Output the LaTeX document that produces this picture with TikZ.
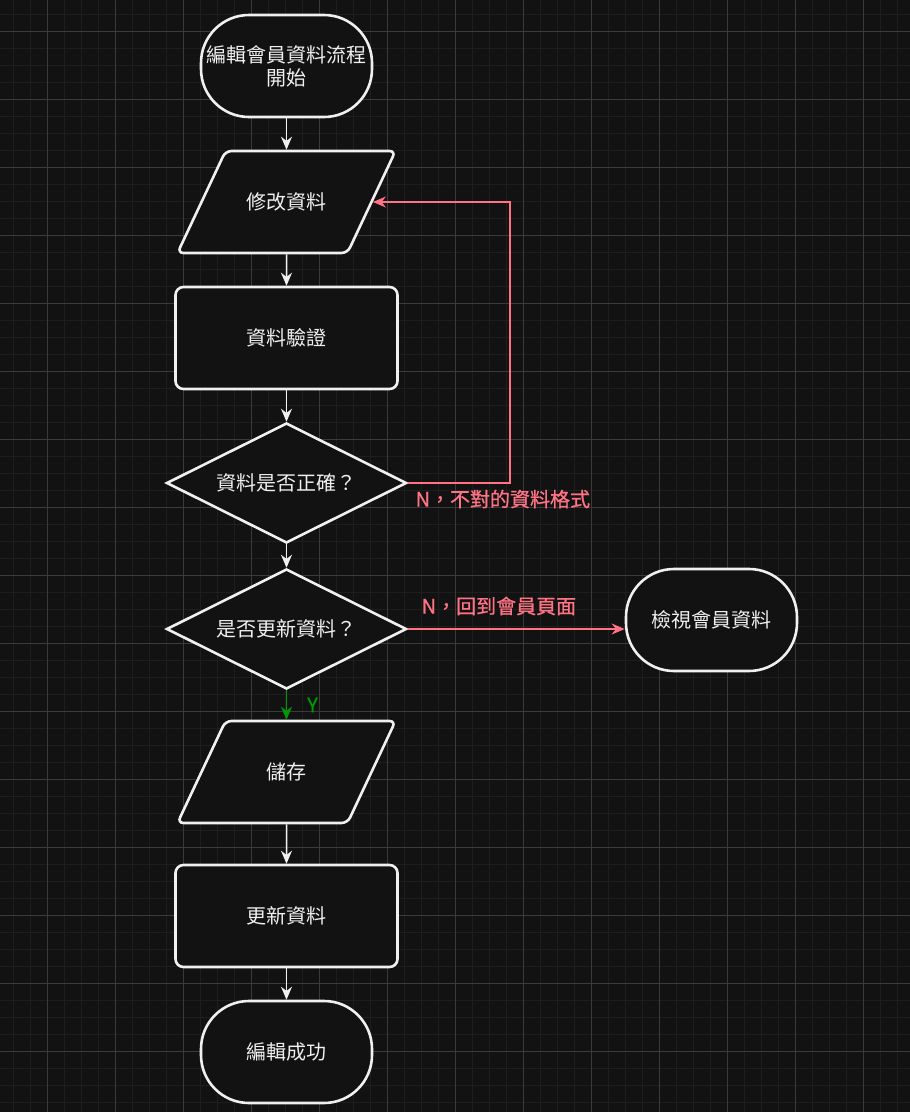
\documentclass[tikz,border=0pt]{standalone}
\usepackage{fontspec}
\setmainfont{Noto Sans CJK TC}
\newfontfamily\lblfont[FakeBold=0.8]{Noto Sans CJK TC}
\usetikzlibrary{shapes.geometric,positioning,arrows.meta}
\definecolor{bg}{HTML}{121212}
\definecolor{gridminor}{HTML}{1E1E1E}
\definecolor{gridmajor}{HTML}{3A3A3A}
\definecolor{edge}{HTML}{F0F0F0}
\definecolor{nored}{HTML}{FF7385}
\definecolor{yesgreen}{HTML}{009900}

\tikzset{
  base/.style={draw=edge, line width=2.6pt, fill=bg, text=edge,
    font=\fontsize{20}{23}\selectfont, align=center},
  term/.style={base, rectangle, rounded corners=48pt,
    minimum width=171pt, minimum height=102pt},
  io/.style={base, trapezium, trapezium left angle=64, trapezium right angle=116,
    trapezium stretches body, inner ysep=40pt, minimum width=218pt, minimum height=102pt,
    rounded corners=6pt},
  proc/.style={base, rectangle, rounded corners=8pt,
    minimum width=222pt, minimum height=102pt},
  decide/.style={base, diamond, aspect=2, inner sep=0pt,
    minimum width=240pt, minimum height=120pt},
  flow/.style={draw=edge, line width=1.5pt, -{Stealth[length=13pt,width=11pt]}},
  lbl/.style={font=\lblfont\fontsize{20}{23}\selectfont, inner sep=2pt},
}

\begin{document}
\begin{tikzpicture}[x=1pt,y=1pt,on grid]
   % background and grid
   \fill[bg] (0,-1112) rectangle (910,0);
   \useasboundingbox (0,-1112) rectangle (910,0);
   \foreach \x in {13,30,...,910} \draw[gridminor,line width=1pt] (\x,0) -- (\x,-1112);
   \foreach \y in {14,31,...,1112} \draw[gridminor,line width=1pt] (0,-\y) -- (910,-\y);
   \foreach \x in {47,115,...,910} \draw[gridmajor,line width=1pt] (\x,0) -- (\x,-1112);
   \foreach \y in {31,99,...,1112} \draw[gridmajor,line width=1pt] (0,-\y) -- (910,-\y);

   \node[term] (start) at (286.5,-66) {編輯會員資料流程\\開始};
   \node[io] (edit) [below=136pt of start] {修改資料};
   \node[proc] (check) [below=136pt of edit] {資料驗證};
   \node[decide] (valid) [below=145pt of check] {資料是否正確？};
   \node[decide] (update) [below=146pt of valid] {是否更新資料？};
   \node[term] (view) [right=425pt of update, yshift=9pt] {檢視會員資料};
   \node[io] (save) [below=143pt of update] {儲存};
   \node[proc] (write) [below=144pt of save] {更新資料};
   \node[term] (done) [below=136pt of write] {編輯成功};

   \draw[flow] (start) -- (edit);
   \draw[flow] (edit) -- (check);
   \draw[flow] (check) -- (valid);
   \draw[flow] (valid) -- (update);
   \draw[flow,draw=yesgreen] (update) -- (save)
      node[lbl,text=yesgreen,midway,right=18pt] {Y};
   \draw[flow] (save) -- (write);
   \draw[flow] (write) -- (done);
   \draw[flow,draw=nored] (valid.east) -- ++(102,0)
      node[lbl,text=nored,below=4pt,xshift=-7pt] {N，不對的資料格式}
      |- (edit.right side);
   \draw[flow,draw=nored] (update.east) -- (update.east -| view.west)
      node[lbl,text=nored,above=11pt,pos=0.42] {N，回到會員頁面};
\end{tikzpicture}
\end{document}
